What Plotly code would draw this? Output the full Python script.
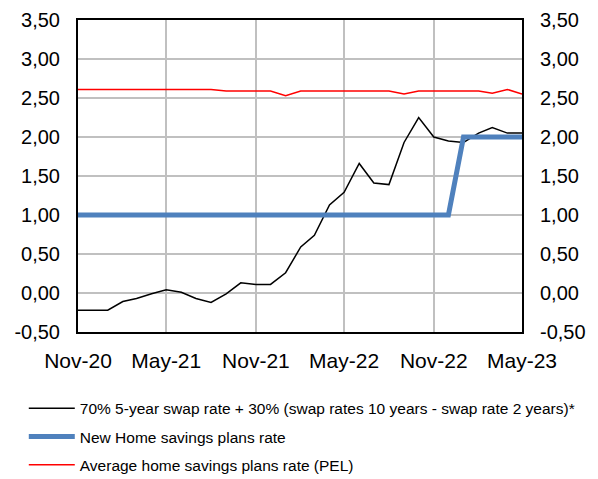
import plotly.graph_objects as go
import pandas as pd

months = [d.strftime("%Y-%m-%d") for d in pd.date_range("2020-11-01", "2023-05-01", freq="MS")]

swap_rate = [-0.22, -0.22, -0.22, -0.11, -0.07, -0.01, 0.04, 0.01, -0.07, -0.12,
             -0.01, 0.13, 0.11, 0.11, 0.26, 0.59, 0.74, 1.13, 1.29, 1.66,
             1.41, 1.39, 1.93, 2.25, 2.00, 1.95, 1.93, 2.05, 2.12, 2.05, 2.05]
new_pel_rate = [1.00] * 26 + [2.00] * 5
avg_pel_rate = [2.61] * 10 + [2.59] * 4 + [2.53] + [2.59] * 7 + [2.55] + [2.59] * 5 + [2.56, 2.61, 2.55]

y_tick_vals = [-0.5, 0, 0.5, 1.0, 1.5, 2.0, 2.5, 3.0, 3.5]
y_tick_text = ["-0,50", "0,00", "0,50", "1,00", "1,50", "2,00", "2,50", "3,00", "3,50"]

names = [
    "70% 5-year swap rate + 30% (swap rates 10 years - swap rate 2 years)*",
    "New Home savings plans rate",
    "Average home savings plans rate (PEL)",
]

fig = go.Figure()
fig.add_trace(go.Scatter(x=months, y=swap_rate, mode="lines", name=names[0],
                         line=dict(color="black", width=1.5), legendgroup="a"))
fig.add_trace(go.Scatter(x=months, y=new_pel_rate, mode="lines", name=names[1],
                         line=dict(color="#4F81BD", width=5), legendgroup="b"))
fig.add_trace(go.Scatter(x=months, y=avg_pel_rate, mode="lines", name=names[2],
                         line=dict(color="#FF0000", width=1.5), legendgroup="c",
                         yaxis="y2"))

font = "Liberation Sans, Arial, sans-serif"
yax = dict(range=[-0.5, 3.5], tickmode="array", tickvals=y_tick_vals, ticktext=y_tick_text,
           showgrid=True, gridcolor="#C0C0C0", gridwidth=1.5, zeroline=False,
           showline=True, linecolor="black", linewidth=2,
           ticks="outside", ticklen=12, tickcolor="rgba(0,0,0,0)",
           tickfont=dict(family=font, size=20, color="black"))

fig.update_layout(
    width=598, height=479,
    margin=dict(l=70, r=84, t=12, b=155, autoexpand=False),
    plot_bgcolor="white", paper_bgcolor="white",
    font=dict(family=font, color="black"),
    xaxis=dict(type="date", range=[months[0], months[-1]], dtick="M6",
               tick0="2020-11-01", tickformat="%b-%y", tickangle=0,
               showgrid=True, gridcolor="#C0C0C0", gridwidth=1.5,
               showline=True, linecolor="black", linewidth=2, mirror=True,
               ticks="outside", ticklen=9, tickcolor="rgba(0,0,0,0)",
               tickfont=dict(family=font, size=21, color="black")),
    yaxis=yax,
    yaxis2=dict(yax, overlaying="y", side="right", showgrid=False),
    legend=dict(xref="container", yref="container", x=0.0264, y=0.1988,
                xanchor="left", yanchor="top", orientation="v",
                tracegroupgap=5, itemwidth=46,
                font=dict(family=font, size=15.5, color="black"),
                bgcolor="rgba(0,0,0,0)"),
)

fig.write_html("out.html")
